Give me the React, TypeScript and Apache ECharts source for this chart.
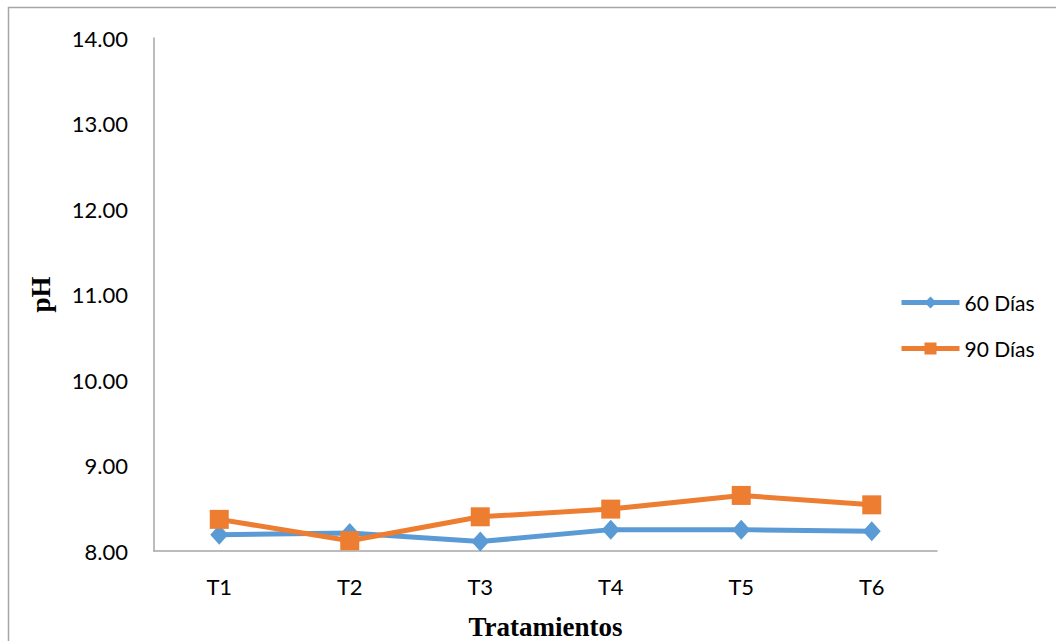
import React, { useEffect, useRef } from "react";
import * as echarts from "echarts";

const categories = ["T1", "T2", "T3", "T4", "T5", "T6"];
const ph60 = [8.19, 8.21, 8.11, 8.25, 8.25, 8.23];
const ph90 = [8.37, 8.12, 8.4, 8.49, 8.65, 8.54];
const seriesNames = ["60 Días", "90 Días"];

const labelFont = "Lato, 'Open Sans', 'Liberation Sans', sans-serif";
const titleFont = "'Liberation Serif', 'DejaVu Serif', serif";

export default function App() {
  const ref = useRef<HTMLDivElement>(null);

  useEffect(() => {
    if (!ref.current) return;
    const chart = echarts.init(ref.current, undefined, { renderer: "svg" });
    chart.setOption({
      animation: false,
      backgroundColor: "#ffffff",
      graphic: [
        {
          type: "rect",
          shape: { x: 8.5, y: 7.5, width: 1100, height: 700 },
          style: { fill: "none", stroke: "#a6a6a6", lineWidth: 1.5 },
          silent: true,
        },
      ],
      grid: {
        left: 154,
        top: 38,
        right: 119,
        bottom: 90,
        containLabel: false,
        outerBoundsMode: "none",
      },
      legend: {
        orient: "vertical",
        left: 899,
        top: 292,
        padding: 0,
        itemWidth: 58,
        itemHeight: 15,
        itemGap: 25,
        lineStyle: { width: 5 },
        textStyle: { fontFamily: labelFont, fontSize: 21, color: "#000" },
        data: seriesNames,
      },
      xAxis: {
        type: "category",
        data: categories,
        boundaryGap: true,
        name: "Tratamientos",
        nameLocation: "middle",
        nameGap: 62,
        nameTextStyle: { fontFamily: titleFont, fontSize: 27, fontWeight: "bold", color: "#000" },
        axisLine: { lineStyle: { color: "#a6a6a6", width: 1.5 } },
        axisTick: { show: false },
        axisLabel: { fontFamily: labelFont, fontSize: 22, color: "#000", margin: 24 },
      },
      yAxis: {
        type: "value",
        min: 8,
        max: 14,
        interval: 1,
        name: "pH",
        nameLocation: "middle",
        nameGap: 100,
        nameRotate: 90,
        nameTextStyle: { fontFamily: titleFont, fontSize: 27, fontWeight: "bold", color: "#000" },
        axisLine: { show: true, lineStyle: { color: "#a6a6a6", width: 1.5 } },
        axisTick: { show: false },
        splitLine: { show: false },
        axisLabel: {
          fontFamily: labelFont,
          fontSize: 22,
          color: "#000",
          margin: 26,
          formatter: (v: number) => v.toFixed(2),
        },
      },
      series: [
        {
          name: seriesNames[0],
          type: "line",
          data: ph60,
          symbol: "diamond",
          symbolSize: [18, 20],
          lineStyle: { color: "#5b9bd5", width: 5 },
          itemStyle: { color: "#5b9bd5" },
          z: 2,
        },
        {
          name: seriesNames[1],
          type: "line",
          data: ph90,
          symbol: "rect",
          symbolSize: 19,
          lineStyle: { color: "#ed7d31", width: 5 },
          itemStyle: { color: "#ed7d31" },
          z: 3,
        },
      ],
    });
    return () => chart.dispose();
  }, []);

  return (
    <div
      ref={ref}
      style={{ position: "fixed", left: 0, top: 0, width: 1056, height: 641 }}
    />
  );
}
